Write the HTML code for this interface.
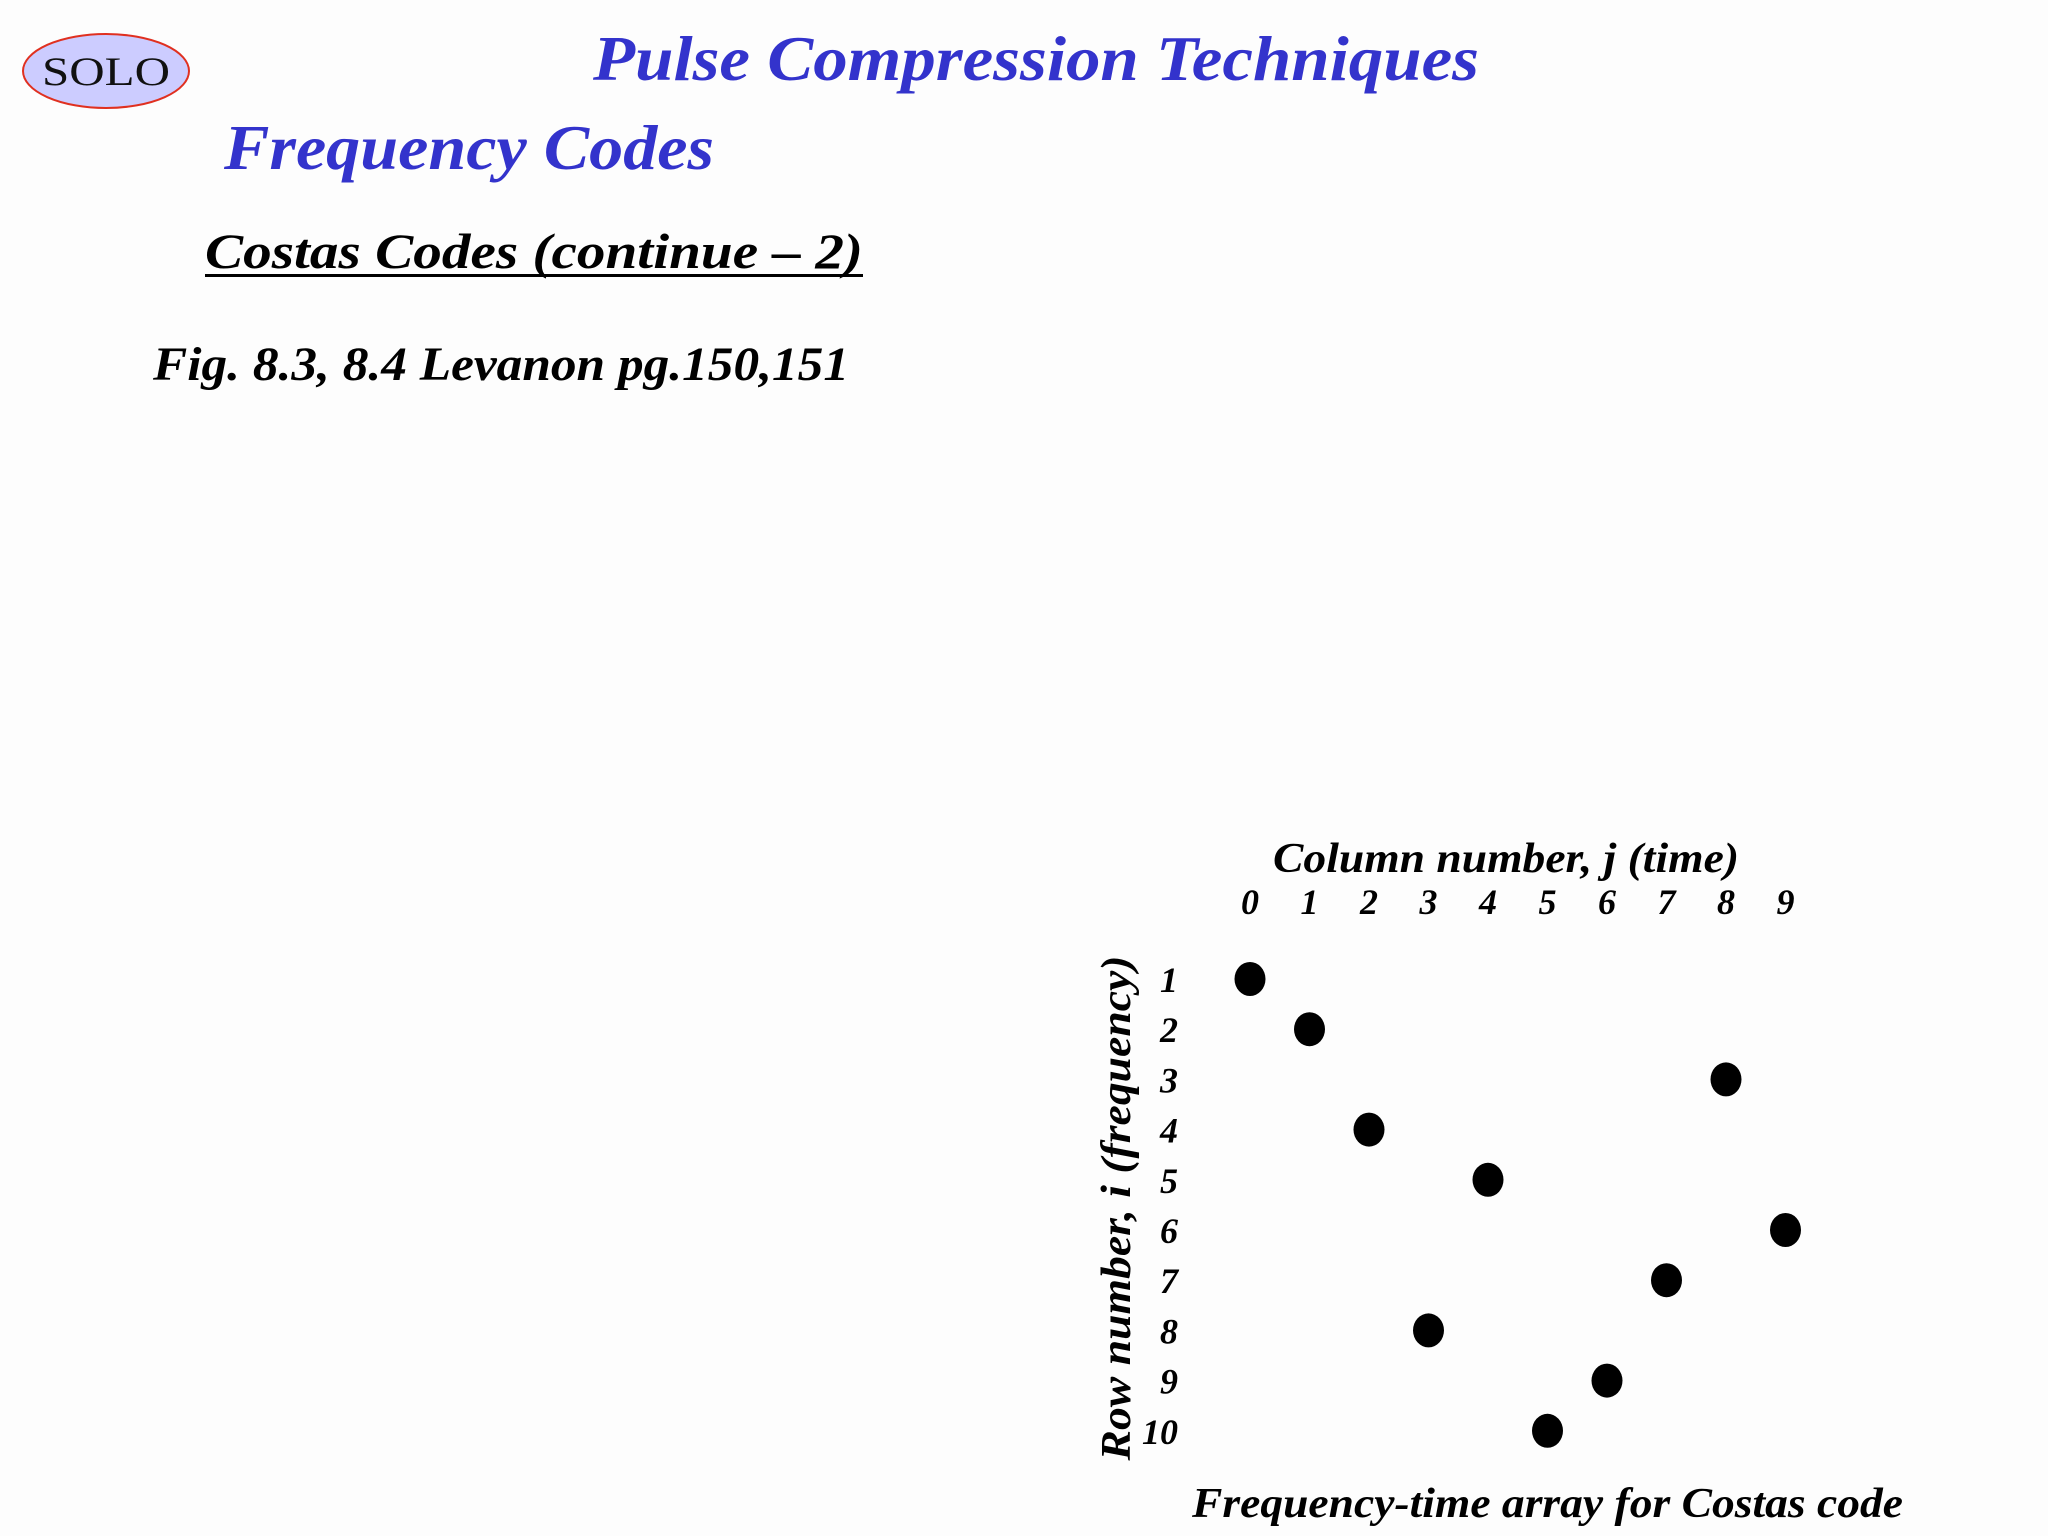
<!DOCTYPE html>
<html><head><meta charset="utf-8"><style>
html,body{margin:0;padding:0;background:#fdfdfd;}
svg{display:block;font-family:"Liberation Serif",serif;}
</style></head><body>
<svg width="2048" height="1536" viewBox="0 0 2048 1536">
<rect width="2048" height="1536" fill="#fdfdfd"/>
<g>
<ellipse cx="106" cy="71" rx="83" ry="37" fill="#ccccff" stroke="#e03020" stroke-width="2"/>
<text x="106" y="85" font-size="40" text-anchor="middle" fill="#111" textLength="128" lengthAdjust="spacingAndGlyphs">SOLO</text>
</g>
<text x="593" y="80" font-size="64" font-weight="bold" font-style="italic" fill="#3333cc" textLength="886" lengthAdjust="spacingAndGlyphs">Pulse Compression Techniques</text>
<text x="224" y="169" font-size="64" font-weight="bold" font-style="italic" fill="#3333cc" textLength="490" lengthAdjust="spacingAndGlyphs">Frequency Codes</text>
<text x="205" y="268" font-size="50" font-weight="bold" font-style="italic" fill="#000" textLength="658" lengthAdjust="spacingAndGlyphs">Costas Codes (continue – 2)</text>
<rect x="205" y="274" width="658" height="3" fill="#000"/>
<text x="153" y="380" font-size="48" font-weight="bold" font-style="italic" fill="#000" textLength="696" lengthAdjust="spacingAndGlyphs">Fig. 8.3, 8.4 Levanon pg.150,151</text>
<g id="chart">
<text x="1273" y="872" font-size="42" font-weight="bold" font-style="italic" textLength="466" lengthAdjust="spacingAndGlyphs">Column number, j (time)</text>
<text transform="translate(1130,1208) rotate(-90)" font-size="42" font-weight="bold" font-style="italic" text-anchor="middle" textLength="505" lengthAdjust="spacingAndGlyphs">Row number, i (frequency)</text>
<text x="1192" y="1517" font-size="42" font-weight="bold" font-style="italic" textLength="711" lengthAdjust="spacingAndGlyphs">Frequency-time array for Costas code</text>
</g>
</svg>
<script>
const colLabels = ["0","1","2","3","4","5","6","7","8","9"];
const rowLabels = ["1","2","3","4","5","6","7","8","9","10"];
const dotCols = [0,1,8,2,4,9,7,3,6,5];
const dotRows = [1,2,3,4,5,6,7,8,9,10];
const NS = "http://www.w3.org/2000/svg";
const chart = document.getElementById("chart");
function xCol(j){ return 1250 + j * 59.5; }
function yRow(i){ return 979 + (i - 1) * 50.2; }
colLabels.forEach((t, j) => {
  const el = document.createElementNS(NS, "text");
  el.setAttribute("x", xCol(j)); el.setAttribute("y", 914);
  el.setAttribute("font-size", "36"); el.setAttribute("font-weight", "bold");
  el.setAttribute("font-style", "italic"); el.setAttribute("text-anchor", "middle");
  el.textContent = t;
  
  
  chart.appendChild(el);
});
rowLabels.forEach((t, k) => {
  const el = document.createElementNS(NS, "text");
  el.setAttribute("x", 1178); el.setAttribute("y", yRow(k + 1) + 13);
  el.setAttribute("font-size", "36"); el.setAttribute("font-weight", "bold");
  el.setAttribute("font-style", "italic"); el.setAttribute("text-anchor", "end");
  el.textContent = t;
  
  
  chart.appendChild(el);
});
dotCols.forEach((j, k) => {
  const el = document.createElementNS(NS, "ellipse");
  el.setAttribute("cx", xCol(j)); el.setAttribute("cy", yRow(dotRows[k]));
  el.setAttribute("rx", 15.5); el.setAttribute("ry", 17);
  el.setAttribute("fill", "#000");
  
  
  chart.appendChild(el);
});
</script>
</body></html>
